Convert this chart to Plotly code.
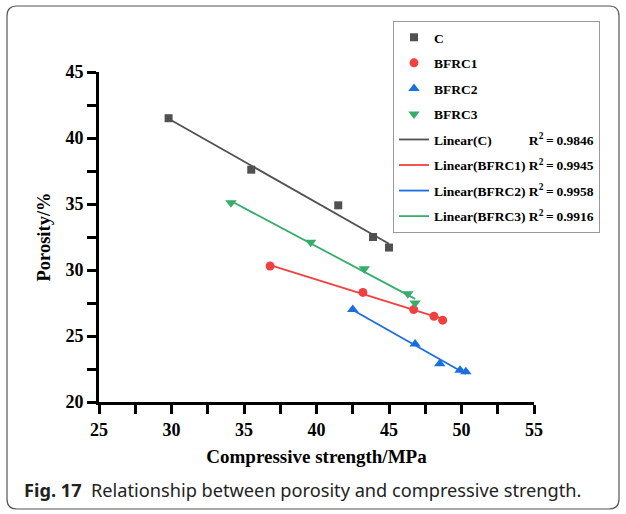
import numpy as np
import plotly.graph_objects as go

# ---- data ----
series_names = ["C", "BFRC1", "BFRC2", "BFRC3"]
c_strength = [29.8, 35.5, 41.5, 43.9, 45.0]
c_porosity = [41.5, 37.6, 34.9, 32.5, 31.7]
b1_strength = [36.8, 43.2, 46.7, 48.1, 48.7]
b1_porosity = [30.3, 28.3, 27.0, 26.5, 26.2]
b2_strength = [42.5, 46.8, 48.5, 49.9, 50.3]
b2_porosity = [27.0, 24.4, 22.9, 22.4, 22.3]
b3_strength = [34.1, 39.6, 43.3, 46.3, 46.8]
b3_porosity = [35.1, 32.1, 30.1, 28.2, 27.5]
r2_values = ["0.9846", "0.9945", "0.9958", "0.9916"]
x_ticks = [25, 30, 35, 40, 45, 50, 55]
y_ticks = [20, 25, 30, 35, 40, 45]

xs = [c_strength, b1_strength, b2_strength, b3_strength]
ys = [c_porosity, b1_porosity, b2_porosity, b3_porosity]
colors = ["#515151", "#F14040", "#1A6FDF", "#37AD6B"]
symbols = ["square", "circle", "triangle-up", "triangle-down"]
msizes = [8, 9, 10, 10]

SERIF = "Liberation Serif, Times New Roman, serif"

fig = go.Figure()
for i, name in enumerate(series_names):
    fig.add_trace(go.Scatter(
        x=xs[i], y=ys[i], mode="markers", name=name,
        legendgroup=f"g{i}",
        marker=dict(symbol=symbols[i], size=msizes[i], color=colors[i]),
    ))

pads = ["\u00a0" * 11, " ", " ", " "]
for i, name in enumerate(series_names):
    x = np.array(xs[i])
    y = np.array(ys[i])
    k, b = np.polyfit(x, y, 1)
    xf = np.array([x.min(), x.max()])
    fig.add_trace(go.Scatter(
        x=xf, y=k * xf + b, mode="lines",
        legendgroup=f"l{i}",
        name=(f"Linear({name}){pads[i]}R<sup>2</sup>\u2009=\u2009{r2_values[i]}"),
        line=dict(color=colors[i], width=1.8),
    ))

# plot area in pixels
L, R, T, B = 99, 534, 72, 402
W, H = 626, 514


def px2paper(px, py):
    return (px - L) / (R - L), (B - py) / (B - T)


def P(px, py):
    a, c = px2paper(px, py)
    return f"{a:.4f},{c:.4f}"


# rounded outer border
x0, y0, x1, y1, r = 7, 6, 619, 509, 10
path = (f"M {P(x0+r, y0)} L {P(x1-r, y0)} Q {P(x1, y0)} {P(x1, y0+r)} "
        f"L {P(x1, y1-r)} Q {P(x1, y1)} {P(x1-r, y1)} L {P(x0+r, y1)} "
        f"Q {P(x0, y1)} {P(x0, y1-r)} L {P(x0, y0+r)} Q {P(x0, y0)} {P(x0+r, y0)} Z")
fig.add_shape(type="path", xref="paper", yref="paper", path=path,
              line=dict(color="#555555", width=1.2), layer="below")

cx, cy = px2paper(22, 490)
fig.add_annotation(
    xref="paper", yref="paper", x=cx, y=cy, xanchor="left", yanchor="middle",
    showarrow=False,
    text="<b>Fig. 17</b>\u00a0\u00a0Relationship between porosity and compressive strength.",
    font=dict(family="Noto Sans, Open Sans, sans-serif", size=18.2, color="#222222"),
)

lx, ly = px2paper(393, 21)
fig.update_layout(
    width=W, height=H,
    margin=dict(l=L, r=W - R, t=T, b=H - B),
    plot_bgcolor="white", paper_bgcolor="white",
    font=dict(family=SERIF, color="black"),
    legend=dict(
        x=lx, y=ly, xanchor="left", yanchor="top",
        bgcolor="white", bordercolor="#9a9a9a", borderwidth=1,
        font=dict(family=SERIF, size=13.5, color="black", weight="bold"),
        traceorder="grouped", tracegroupgap=5,
    ),
    xaxis=dict(
        range=[25, 55], tickvals=x_ticks, ticktext=[f"<b>{v}</b>" for v in x_ticks],
        showgrid=False, zeroline=False, showline=True, linecolor="black",
        linewidth=3, ticks="outside", ticklen=9, tickwidth=2.5, tickcolor="black",
        minor=dict(dtick=2.5, tick0=25, ticks="outside", ticklen=9, tickwidth=2.5, tickcolor="black"),
        tickfont=dict(family=SERIF, size=18),
        title=dict(text="<b>Compressive strength/MPa</b>",
                   font=dict(family=SERIF, size=19), standoff=12),
    ),
    yaxis=dict(
        range=[20, 45], tickvals=y_ticks, ticktext=[f"<b>{v}</b>" for v in y_ticks],
        showgrid=False, zeroline=False, showline=True, linecolor="black",
        linewidth=3, ticks="outside", ticklen=9, tickwidth=2.5, tickcolor="black",
        minor=dict(dtick=2.5, tick0=20, ticks="outside", ticklen=9, tickwidth=2.5, tickcolor="black"),
        tickfont=dict(family=SERIF, size=18),
        title=dict(text="<b>Porosity/%</b>",
                   font=dict(family=SERIF, size=18.5), standoff=10),
    ),
)

fig.write_html(
    "out.html",
    config={"displayModeBar": False},
    post_script="document.body.style.margin='0';document.body.style.overflow='hidden';",
)
